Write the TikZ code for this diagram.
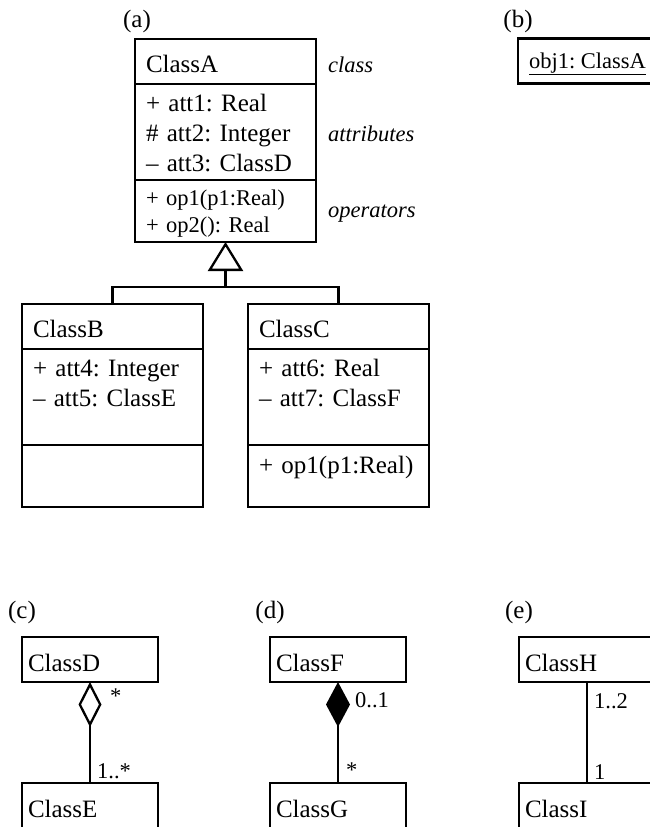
\documentclass[tikz,border=0pt]{standalone}
\usepackage{fontspec}
\setmainfont{Liberation Serif}
\frenchspacing
\usetikzlibrary{arrows.meta,calc,positioning}
\newcommand{\umlfont}{\fontsize{25pt}{30pt}\selectfont}
\newcommand{\smallumlfont}{\fontsize{22.5pt}{26.5pt}\selectfont}
\tikzset{
    compartment/.style={draw, outer sep=0pt, inner ysep=0pt, align=left, font=\umlfont},
    classname/.style={compartment, text width=159pt, inner xsep=11pt, text height=33.5pt, text depth=11.5pt},
    classatts/.style={compartment, text width=159pt, inner xsep=11pt, text height=27.5pt, text depth=68.5pt},
    classops/.style={compartment, text width=159pt, inner xsep=11pt, text height=28pt, text depth=34pt},
    smallclass/.style={compartment, text width=124pt, inner xsep=6pt, text height=34pt, text depth=11pt},
    objname/.style={compartment, inner xsep=11pt, text height=30pt, text depth=15pt, font=\smallumlfont},
    note/.style={font=\smallumlfont\itshape, inner sep=0pt},
    mult/.style={font=\smallumlfont, inner sep=0pt, anchor=base west},
    tag/.style={font=\umlfont, inner sep=0pt},
    inherit/.style={-{Triangle[open, length=29pt, width=35pt]}},
    aggregate/.style={{Diamond[open, length=45pt, width=23pt]}-},
    compose/.style={{Diamond[length=45pt, width=24pt]}-}
}

\begin{document}
\begin{tikzpicture}[x=1pt, y=-1pt, line width=2.3pt]
\useasboundingbox (0,0) rectangle (650,827);
\clip (0,0) rectangle (650,827);
% (a) class and its subclasses
\node[classname, anchor=north west] (A-name) at (135,39) {ClassA};
\node[classatts, below=0pt of A-name] (A-atts) {+ att1: Real\\\# att2: Integer\\– att3: ClassD};
\node[classops, font=\smallumlfont, text height=25.5pt, text depth=36.5pt, below=0pt of A-atts] (A-ops) {+ op1(p1:Real)\\+ op2(): Real};
\node[tag, above=5pt of A-name.north west, xshift=2pt] (A-tag) {(a)};
\node[note, right=11pt of A-name, yshift=-3.5pt] (A-class) {class};
\node[note, right=11pt of A-atts, yshift=-2pt] (A-attnote) {attributes};
\node[note, right=11pt of A-ops, yshift=-3pt] (A-opnote) {operators};

\node[classname, anchor=north west] (B-name) at (22,304) {ClassB};
\node[classatts, below=0pt of B-name] (B-atts) {+ att4: Integer\\– att5: ClassE};
\node[classops, below=0pt of B-atts] (B-ops) {};

\node[classname, anchor=north west] (C-name) at (248,304) {ClassC};
\node[classatts, below=0pt of C-name] (C-atts) {+ att6: Real\\– att7: ClassF};
\node[classops, below=0pt of C-atts] (C-ops) {+ op1(p1:Real)};

\coordinate (fork) at ($(A-ops.south)+(0,45)$);
\draw (B-name.north) |- (fork) -| (C-name.north);
\draw[inherit] (fork) -- (A-ops.south);

% (b) object
\node[objname, anchor=north west] (obj1) at (518,38.5) {\underline{obj1: ClassA}};
\node[tag, above=5pt of obj1.north west] (obj1-tag) {(b)};

% (c) aggregation
\node[smallclass, anchor=north west] (D) at (22,637) {ClassD};
\node[smallclass, anchor=north west] (E) at (22,783) {ClassE};
\node[tag, above=12pt of D.north west] (D-tag) {(c)};
\draw[aggregate] (D.south) -- (E.north);
\node[mult] (D-mult) at ($(D.south)+(19,21)$) {*};
\node[mult] (E-mult) at ($(E.north)+(6,-5)$) {1..*};

% (d) composition
\node[smallclass, anchor=north west] (F) at (270,637) {ClassF};
\node[smallclass, anchor=north west] (G) at (270,783) {ClassG};
\node[tag, above=12pt of F.north west] (F-tag) {(d)};
\draw[compose] (F.south) -- (G.north);
\node[mult] (F-mult) at ($(F.south)+(16,25)$) {0..1};
\node[mult] (G-mult) at ($(G.north)+(7,-6)$) {*};

% (e) association
\node[smallclass, anchor=north west] (H) at (519,637) {ClassH};
\node[smallclass, anchor=north west] (I) at (519,783) {ClassI};
\node[tag, above=12pt of H.north west] (H-tag) {(e)};
\draw (H.south) -- (I.north);
\node[mult] (H-mult) at ($(H.south)+(6,26)$) {1..2};
\node[mult] (I-mult) at ($(I.north)+(6,-4)$) {1};
\end{tikzpicture}
\end{document}
